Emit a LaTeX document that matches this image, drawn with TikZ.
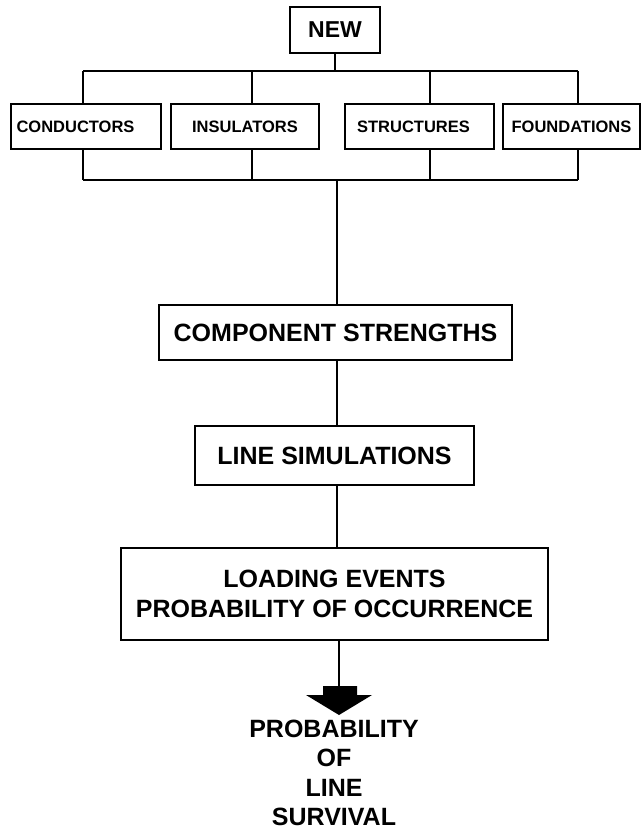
\documentclass[tikz,border=0pt]{standalone}
\usepackage{fontspec}
\setmainfont{Liberation Sans}
\begin{document}
\begin{tikzpicture}[x=1pt,y=-1pt,
  every path/.style={line width=2pt},
  box/.style={draw,line width=2pt,inner sep=0pt,align=center},
  big/.style={font=\bfseries\fontsize{25}{30}\selectfont},
  small/.style={font=\bfseries\fontsize{16.5}{19}\selectfont},
  wire/.style={draw,line width=2pt}]
\useasboundingbox (0,0) rectangle (642,833);
% top
\node[box,minimum width=90pt,minimum height=46pt,font=\bfseries\fontsize{23}{26}\selectfont] (new) at (335,30) {NEW};
\node[box,small,minimum width=150pt,minimum height=45pt] (cond) at (86,126.5) {CONDUCTORS\kern21pt};
\node[box,small,minimum width=148pt,minimum height=45pt] (ins) at (245,126.5) {INSULATORS};
\node[box,small,minimum width=149pt,minimum height=45pt] (str) at (419.5,126.5) {\kern-12ptSTRUCTURES};
\node[box,small,minimum width=137pt,minimum height=45pt] (fou) at (571.5,126.5) {FOUNDATIONS};
\coordinate (tb) at (335,71);
\coordinate (t1) at (83,71);
\coordinate (t2) at (252,71);
\coordinate (t3) at (430,71);
\coordinate (t4) at (578,71);
\coordinate (b1) at (83,180);
\coordinate (b2) at (252,180);
\coordinate (b3) at (430,180);
\coordinate (b4) at (578,180);
\coordinate (bc) at (337,180);
\draw[wire] (new.south) -- (tb);
\draw[wire] (t1) -- (t4);
\draw[wire] (t1) -- (t1 |- cond.north);
\draw[wire] (t2) -- (t2 |- ins.north);
\draw[wire] (t3) -- (t3 |- str.north);
\draw[wire] (t4) -- (t4 |- fou.north);
\draw[wire] (b1 |- cond.south) -- (b1);
\draw[wire] (b2 |- ins.south) -- (b2);
\draw[wire] (b3 |- str.south) -- (b3);
\draw[wire] (b4 |- fou.south) -- (b4);
\draw[wire] (b1) -- (b4);
% middle
\node[box,big,minimum width=353pt,minimum height=55pt] (cs) at (335.5,332.5) {COMPONENT STRENGTHS};
\node[box,big,minimum width=279pt,minimum height=59pt] (ls) at (334.5,455.5) {LINE SIMULATIONS};
\node[box,big,minimum width=427pt,minimum height=92pt] (le) at (334.5,594) {LOADING EVENTS\\PROBABILITY OF OCCURRENCE};
\draw[wire] (bc) -- (bc |- cs.north);
\draw[wire] (cs.south -| bc) -- (bc |- ls.north);
\draw[wire] (ls.south -| bc) -- (bc |- le.north);
\coordinate (at) at (339,687);
\draw[wire] (le.south -| at) -- (at);
\fill (323,686) -- (357,686) -- (357,695) -- (372,695) -- (339,715) -- (306,695) -- (323,695) -- cycle;
\node[align=center,inner sep=0pt,font=\bfseries\fontsize{25}{29.5}\selectfont] (out) at (334,773) {PROBABILITY\\OF\\LINE\\SURVIVAL};
\end{tikzpicture}
\end{document}
